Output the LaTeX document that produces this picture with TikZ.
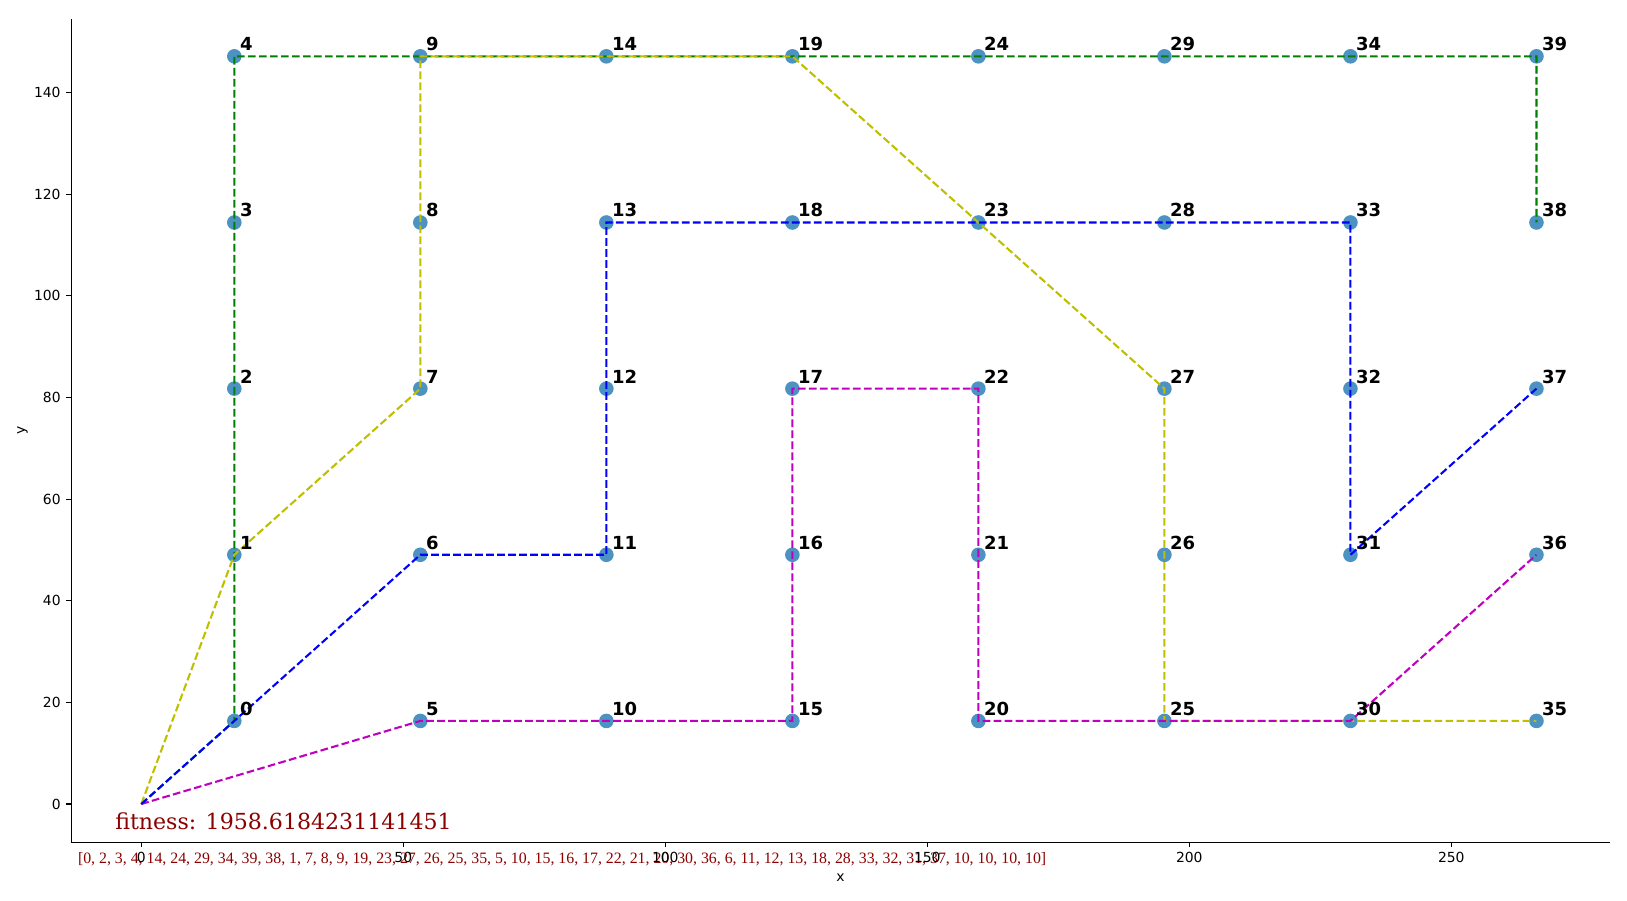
\documentclass[tikz,border=0pt]{standalone}
\usepackage{fontspec}
\setmainfont{Liberation Serif}
\newfontfamily\djsans{DejaVu Sans}
\newfontfamily\djserif{DejaVu Serif}
\definecolor{gcol}{RGB}{0,128,0}
\definecolor{ycol}{RGB}{191,191,0}
\definecolor{mcol}{RGB}{191,0,191}
\definecolor{bcol}{RGB}{0,0,255}
\definecolor{mkcol}{RGB}{31,119,180}
\definecolor{fitred}{RGB}{139,0,0}
\tikzset{
  spine/.style={line width=1.11pt, black},
  tickmark/.style={line width=1.11pt, black},
  ticklbl/.style={inner sep=0pt, font=\djsans\fontsize{13.9}{16}\selectfont},
  route/.style={line width=2.08pt, dash pattern=on 7.7pt off 3.3pt},
  mk/.style={fill=mkcol, fill opacity=0.8},
  lbl/.style={anchor=base west, inner sep=0pt, xshift=5.5pt, yshift=5.5pt, font=\djsans\bfseries\fontsize{18}{20}\selectfont},
  fittxt/.style={anchor=base west, inner sep=0pt, text=fitred, font=\djserif\fontsize{22.1}{26}\selectfont},
  listtxt/.style={anchor=base west, inner sep=0pt, text=fitred, font=\fontsize{15.84}{18}\selectfont}
}
\begin{document}
\begin{tikzpicture}[x=1pt,y=-1pt]
\useasboundingbox (0,0) rectangle (1627,900);
% axes spines
\coordinate (axTL) at (71.3,19);
\coordinate (axBL) at (71.3,842.3);
\coordinate (axBR) at (1610,842.3);
\draw[spine] (axTL) -- (axBL) -- (axBR);
% axis labels
\node[ticklbl, anchor=base] (xlab) at (840.6,881) {x};
\node[ticklbl, rotate=90, anchor=center] (ylab) at (22.5,430.6) {y};
% list text
\node[listtxt] (routelist) at (77.8,863.7) {[0, 2, 3, 4, 14, 24, 29, 34, 39, 38, 1, 7, 8, 9, 19, 23, 27, 26, 25, 35, 5, 10, 15, 16, 17, 22, 21, 20, 30, 36, 6, 11, 12, 13, 18, 28, 33, 32, 31, 37, 10, 10, 10, 10]};
\begin{scope}[shift={(141.3,804)}, x=5.24pt, y=5.081pt]
  % ticks
  \foreach \t in {0,50,...,250}{
    \coordinate (xt\t) at (\t,-7.538);
    \draw[tickmark] (xt\t) -- ++(0,-4.86pt);
    \node[ticklbl, anchor=base, yshift=-20pt] (xtl\t) at (xt\t) {\t};
  }
  \foreach \t in {0,20,...,140}{
    \coordinate (yt\t) at (-13.359,\t);
    \draw[tickmark] (yt\t) -- ++(-4.86pt,0);
    \node[ticklbl, anchor=east, xshift=-10.5pt] (ytl\t) at (yt\t) {\t};
  }
  % points
  \coordinate (dep) at (0,0);
  \foreach \i in {0,...,39}{
    \pgfmathsetmacro\cx{17.75*(2*int(\i/5)+1)}
    \pgfmathsetmacro\cy{16.35*(2*mod(\i,5)+1)}
    \coordinate (n\i) at (\cx,\cy);
  }
  \foreach \i in {0,...,39}{
    \fill[mk] (n\i) circle[radius=7.3pt];
  }
  % routes
  \draw[route, gcol] (dep) -- (n0) -- (n2) -- (n3) -- (n4) -- (n14) -- (n24) -- (n29) -- (n34) -- (n39) -- (n38);
  \draw[route, ycol] (dep) -- (n1) -- (n7) -- (n8) -- (n9) -- (n19) -- (n23) -- (n27) -- (n26) -- (n25) -- (n35);
  \draw[route, mcol] (dep) -- (n5) -- (n10) -- (n15) -- (n16) -- (n17) -- (n22) -- (n21) -- (n20) -- (n30) -- (n36);
  \draw[route, bcol] (dep) -- (n6) -- (n11) -- (n12) -- (n13) -- (n18) -- (n28) -- (n33) -- (n32) -- (n31) -- (n37);
  % labels
  \foreach \i in {0,...,39}{
    \node[lbl] (l\i) at (n\i) {\i};
  }
  % fitness
  \node[fittxt] (fitness) at (-5,-5) {fitness: 1958.6184231141451};
\end{scope}
\end{tikzpicture}
\end{document}
